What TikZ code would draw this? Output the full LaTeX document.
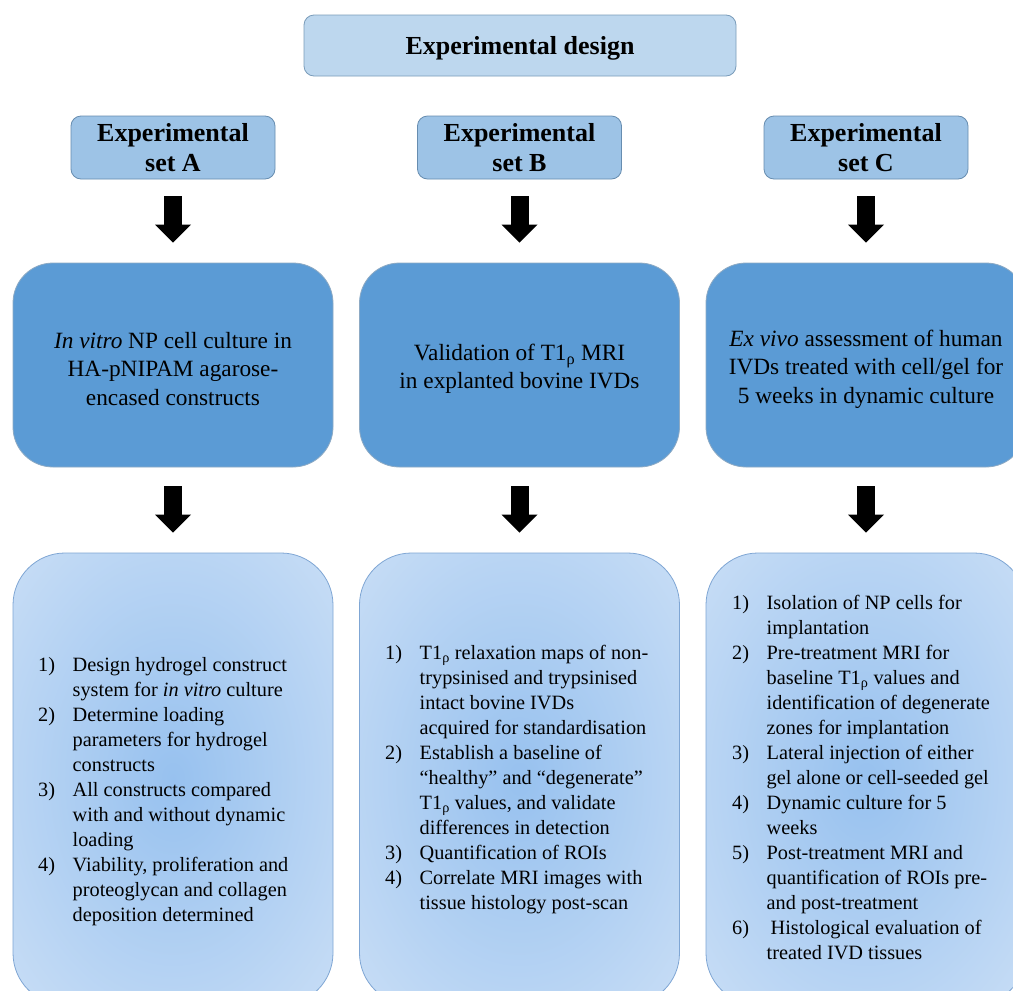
\documentclass[tikz,border=0pt]{standalone}
\usepackage{fontspec}
\setmainfont{Liberation Serif}
\usetikzlibrary{arrows.meta,calc}
\definecolor{titlefill}{HTML}{BDD7EE}
\definecolor{setfill}{HTML}{9DC3E6}
\definecolor{midfill}{HTML}{5B9BD5}
\definecolor{edgeblue}{HTML}{41719C}
\definecolor{softedge}{HTML}{7FA6D4}
\definecolor{gradin}{HTML}{97C1EF}
\definecolor{gradout}{HTML}{DCE9F8}
\pgfdeclareradialshading{listshade}{\pgfpoint{0bp}{0bp}}{color(0bp)=(gradin); color(50bp)=(gradout)}
\newcommand\itemnum[1]{\makebox[34.5pt][l]{#1}}
\newcommand\itemcont{\hspace*{34.5pt}}
\newcommand\Trho{T1\textsubscript{ρ}}
\begin{document}
\begin{tikzpicture}[x=1pt,y=-1pt,
  titlebox/.style={draw=edgeblue!70, line width=0.8pt, fill=titlefill, rounded corners=10pt,
    minimum width=432pt, minimum height=61pt, inner sep=0pt, text depth=0pt,
    font=\fontsize{26}{30}\selectfont\bfseries},
  setbox/.style={draw=edgeblue!80, line width=0.8pt, fill=setfill, rounded corners=10pt,
    minimum width=204pt, minimum height=63pt, inner sep=0pt, align=center,
    font=\fontsize{26}{30}\selectfont\bfseries},
  midbox/.style={draw=edgeblue!60, line width=0.8pt, fill=midfill, rounded corners=40pt,
    minimum width=320pt, minimum height=204pt, inner sep=0pt},
  midlabel/.style={inner sep=0pt, align=center, yshift=-4pt,
    font=\fontsize{23.3}{28.5}\selectfont},
  listbox/.style={draw=softedge, line width=0.8pt, shading=listshade, rounded corners=52pt,
    minimum width=320pt, minimum height=452pt, inner sep=0pt},
  listtext/.style={anchor=west, inner sep=0pt, align=left,
    font=\fontsize{20.3}{25}\selectfont},
  blockarrow/.style={line width=18pt, -{Triangle[width=36pt,length=18pt,line width=0pt]},
    shorten <=17pt, shorten >=20pt},
  blockarrowlow/.style={blockarrow, shorten <=19pt}
]
\clip (0,0) rectangle (1013,991);
\fill[white] (0,0) rectangle (1013,991);

\node[titlebox] (title) at (520,45.5) {Experimental design};

\node[setbox] (setA) at (173,147.5) {Experimental\\set A};
\node[setbox] (setB) at (519.5,147.5) {Experimental\\set B};
\node[setbox] (setC) at (866,147.5) {Experimental\\set C};

\node[midbox, label={[midlabel]center:{\textit{In vitro} NP cell culture in\\HA-pNIPAM agarose-\\encased constructs}}] (midA) at (173,365) {};
\node[midbox, label={[midlabel]center:{Validation of \Trho{} MRI\\in explanted bovine IVDs}}] (midB) at (519.5,365) {};
\node[midbox, label={[midlabel]center:{\textit{Ex vivo} assessment of human\\IVDs treated with cell/gel for\\5 weeks in dynamic culture}}] (midC) at (866,365) {};

\node[listbox] (listA) at (173,779) {};
\node[listbox] (listB) at (519.5,779) {};
\node[listbox] (listC) at (866,779) {};

\node[listtext] (itemsA) at (38,791.5) {%
\itemnum{1)}Design hydrogel construct\\
\itemcont system for \textit{in vitro} culture\\
\itemnum{2)}Determine loading\\
\itemcont parameters for hydrogel\\
\itemcont constructs\\
\itemnum{3)}All constructs compared\\
\itemcont with and without dynamic\\
\itemcont loading\\
\itemnum{4)}Viability, proliferation and\\
\itemcont proteoglycan and collagen\\
\itemcont deposition determined};

\node[listtext] (itemsB) at (385,779.5) {%
\itemnum{1)}\Trho{} relaxation maps of non-\\
\itemcont trypsinised and trypsinised\\
\itemcont intact bovine IVDs\\
\itemcont acquired for standardisation\\
\itemnum{2)}Establish a baseline of\\
\itemcont “healthy” and “degenerate”\\
\itemcont \Trho{} values, and validate\\
\itemcont differences in detection\\
\itemnum{3)}Quantification of ROIs\\
\itemnum{4)}Correlate MRI images with\\
\itemcont tissue histology post-scan};

\node[listtext] (itemsC) at (732,777.5) {%
\itemnum{1)}Isolation of NP cells for\\
\itemcont implantation\\
\itemnum{2)}Pre-treatment MRI for\\
\itemcont baseline \Trho{} values and\\
\itemcont identification of degenerate\\
\itemcont zones for implantation\\
\itemnum{3)}Lateral injection of either\\
\itemcont gel alone or cell-seeded gel\\
\itemnum{4)}Dynamic culture for 5\\
\itemcont weeks\\
\itemnum{5)}Post-treatment MRI and\\
\itemcont quantification of ROIs pre-\\
\itemcont and post-treatment\\
\itemnum{6)}\hspace{4pt}Histological evaluation of\\
\itemcont treated IVD tissues};

\draw[blockarrow] (setA) -- (midA);
\draw[blockarrow] (setB) -- (midB);
\draw[blockarrow] (setC) -- (midC);
\draw[blockarrowlow] (midA) -- (listA);
\draw[blockarrowlow] (midB) -- (listB);
\draw[blockarrowlow] (midC) -- (listC);
\end{tikzpicture}
\end{document}
